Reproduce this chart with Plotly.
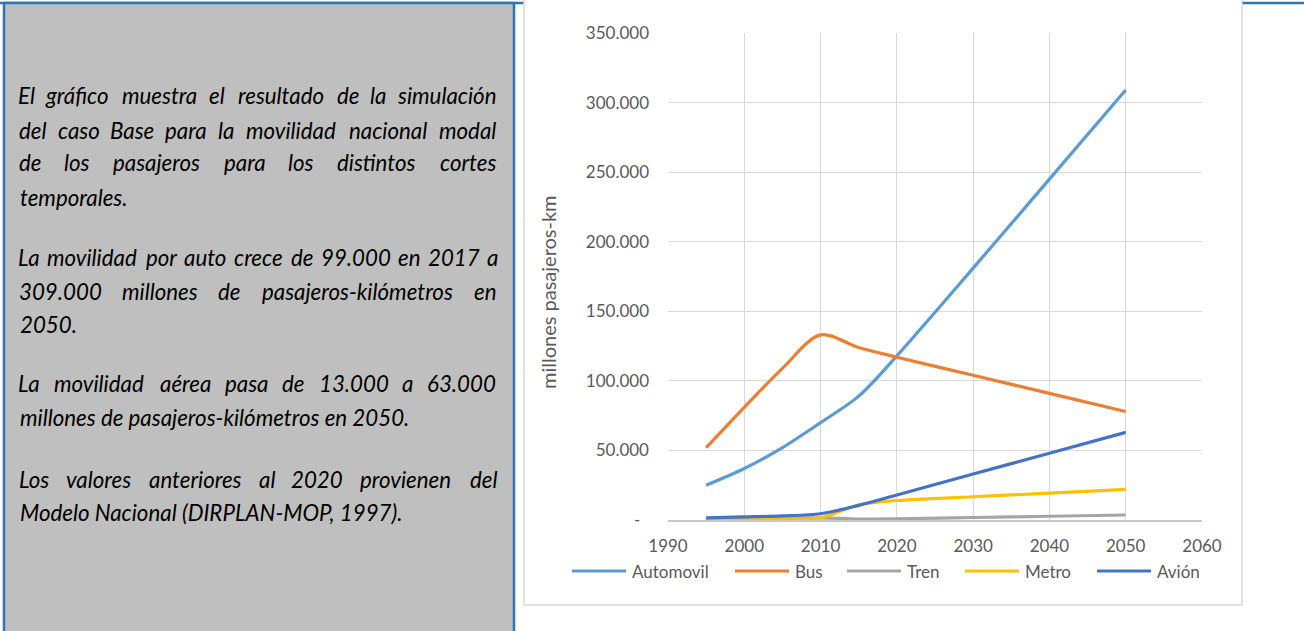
import plotly.graph_objects as go

# ---------------- data ----------------
years = [1995, 2000, 2005, 2010, 2015, 2020, 2030, 2040, 2050]
automovil = [25000, 37000, 52000, 70000, 89000, 118000, 181000, 245000, 309000]
bus = [52000, 81000, 109000, 133000, 124000, 117000, 104000, 91000, 78000]
tren = [1000, 1100, 1300, 1500, 700, 900, 1800, 2700, 3600]
metro = [200, 400, 700, 1500, 11000, 14000, 16700, 19300, 22000]
avion = [1500, 2200, 3000, 4500, 10500, 18000, 33000, 48000, 63000]

series_names = ["Automovil", "Bus", "Tren", "Metro", "Avión"]
series_colors = ["#5B9BD5", "#ED7D31", "#A5A5A5", "#FFC000", "#4472C4"]

x_ticks = [1990, 2000, 2010, 2020, 2030, 2040, 2050, 2060]
y_ticks = [0, 50000, 100000, 150000, 200000, 250000, 300000, 350000]
y_ticklabels = ["-\u00a0\u00a0", "50.000", "100.000", "150.000", "200.000",
                "250.000", "300.000", "350.000"]
y_title = "millones pasajeros-km"

text_lines = [
    "El gráfico muestra el resultado de la simulación",
    "del caso Base para la movilidad nacional modal",
    "de los pasajeros para los distintos cortes",
    "temporales.",
    "La movilidad por auto crece de 99.000 en 2017 a",
    "309.000 millones de pasajeros-kilómetros en",
    "2050.",
    "La movilidad aérea pasa de 13.000 a 63.000",
    "millones de pasajeros-kilómetros en 2050.",
    "Los valores anteriores al 2020 provienen del",
    "Modelo Nacional (DIRPLAN-MOP, 1997).",
]
text_justified = [True, True, True, False, True, True, False, True, False, True, False]

# ---------------- layout geometry (pixels) ----------------
FIG_W, FIG_H = 1304, 631
PL, PR, PT, PB = 668, 1202, 33, 520
line_y = [96, 130, 163, 197, 257, 291, 324, 383, 417, 479, 512]
TEXT_L, TEXT_R = 18, 498
REF_EM = 23.5
DIGIT_W = 13.3
legend_x = [572, 735, 847, 965, 1097]
LEGEND_Y = 571
SAMPLE_LEN = 54


def px(x):
    return (x - PL) / (PR - PL)


def py(y):
    return (PB - y) / (PB - PT)


CW = {'a': .479, 'b': .525, 'c': .423, 'd': .525, 'e': .498, 'f': .305, 'g': .471,
      'h': .525, 'i': .229, 'j': .239, 'k': .455, 'l': .229, 'm': .799, 'n': .525,
      'o': .527, 'p': .525, 'q': .525, 'r': .349, 's': .391, 't': .335, 'u': .525,
      'v': .452, 'w': .715, 'x': .433, 'y': .453, 'z': .395, ' ': .226, '.': .235,
      ',': .235, '-': .306, '(': .303, ')': .303, 'A': .579, 'B': .544, 'C': .533,
      'D': .615, 'E': .488, 'I': .252, 'L': .420, 'M': .855, 'N': .646, 'O': .662,
      'P': .517, 'R': .543}
ACC = {'á': 'a', 'é': 'e', 'í': 'i', 'ó': 'o', 'ú': 'u'}


def width(word):
    w = 0
    for ch in word:
        ch = ACC.get(ch, ch)
        w += DIGIT_W if ch.isdigit() else CW.get(ch, .5) * REF_EM
    return w


fig = go.Figure()
for name, vals, col in zip(series_names, [automovil, bus, tren, metro, avion], series_colors):
    fig.add_trace(go.Scatter(x=years, y=vals, name=name, mode="lines", showlegend=False,
                             line=dict(color=col, width=3.2, shape="spline", smoothing=0.9)))

shapes = []
# top blue rule
shapes.append(dict(type="line", xref="paper", yref="paper", x0=px(0), x1=px(1304),
                   y0=py(3), y1=py(3), line=dict(color="#2E75B6", width=2.5), layer="below"))
# gray text box
shapes.append(dict(type="rect", xref="paper", yref="paper", x0=px(4), x1=px(514),
                   y0=py(3), y1=py(660), fillcolor="#BFBFBF",
                   line=dict(color="#2E75B6", width=2.5), layer="below"))
# white chart box
shapes.append(dict(type="rect", xref="paper", yref="paper", x0=px(524), x1=px(1242),
                   y0=py(-2), y1=py(605), fillcolor="white",
                   line=dict(color="#D9D9D9", width=1.5), layer="below"))

annotations = []
tfont = dict(family="Lato", size=22.3, color="#000000", style="italic")
for line, just, yy in zip(text_lines, text_justified, line_y):
    if not just:
        annotations.append(dict(text=line, xref="paper", yref="paper", x=px(TEXT_L), y=py(yy),
                                xanchor="left", yanchor="middle", showarrow=False, font=tfont))
        continue
    words = line.split(" ")
    ws = [width(w) for w in words]
    gap = (TEXT_R - TEXT_L - sum(ws)) / (len(words) - 1)
    x = TEXT_L
    for w, wd in zip(words, ws):
        annotations.append(dict(text=w, xref="paper", yref="paper", x=px(x + wd / 2), y=py(yy),
                                xanchor="center", yanchor="middle", showarrow=False, font=tfont))
        x += wd + gap

annotations.append(dict(text=y_title, xref="paper", yref="paper", x=px(548), y=py(292),
                        textangle=-90, showarrow=False, xanchor="center", yanchor="middle",
                        font=dict(family="Lato", size=20, color="#595959")))

gfont = dict(family="Lato", size=17, color="#595959")

# legend (sample line + label per series)
for name, col, lx in zip(series_names, series_colors, legend_x):
    shapes.append(dict(type="line", xref="paper", yref="paper", x0=px(lx), x1=px(lx + SAMPLE_LEN),
                       y0=py(LEGEND_Y), y1=py(LEGEND_Y), line=dict(color=col, width=3.2)))
    annotations.append(dict(text=name, xref="paper", yref="paper", x=px(lx + SAMPLE_LEN + 4),
                            y=py(LEGEND_Y), xanchor="left", yanchor="middle", showarrow=False,
                            font=gfont))

fig.update_layout(
    width=FIG_W, height=FIG_H,
    margin=dict(l=PL, r=FIG_W - PR, t=PT, b=FIG_H - PB, autoexpand=False),
    paper_bgcolor="white", plot_bgcolor="rgba(0,0,0,0)",
    shapes=shapes, annotations=annotations,
    showlegend=False,
    xaxis=dict(range=[1990, 2060], tickvals=x_ticks, showgrid=True, gridcolor="#D9D9D9",
               gridwidth=1.3, zeroline=False, showline=True, linecolor="#C8C8C8", linewidth=1.5,
               tickfont=gfont, ticks="", ticklabelstandoff=10, mirror=False),
    yaxis=dict(range=[0, 350000], tickvals=y_ticks, ticktext=y_ticklabels, showgrid=True,
               gridcolor="#D9D9D9", gridwidth=1.3, zeroline=False, showline=False,
               tickfont=gfont, ticks="", ticklabelstandoff=18),
)

fig.write_html("out.html", config={"displayModeBar": False},
               post_script="document.body.style.margin='0';document.body.style.overflow='hidden';")
